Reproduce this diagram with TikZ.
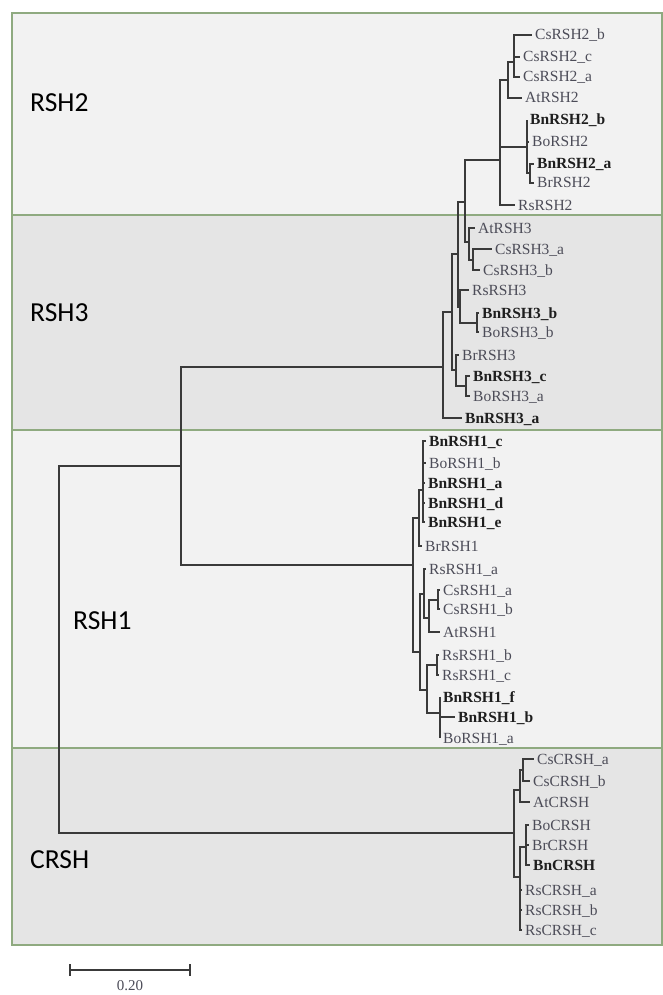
\documentclass[tikz,border=0pt]{standalone}
\usepackage{fontspec}
\setmainfont{Liberation Serif}
\newfontfamily\cladefont{Carlito}
\definecolor{bandlight}{HTML}{F2F2F2}
\definecolor{banddark}{HTML}{E5E5E5}
\definecolor{bordergreen}{HTML}{8FAA80}
\definecolor{treeline}{HTML}{3A3A3A}
\definecolor{leafgray}{HTML}{4C4C58}
\definecolor{leafbold}{HTML}{1E1E1E}
\newcommand\brn[2]{\draw[br] (#1) |- (#2);}
\begin{document}
\begin{tikzpicture}[x=1pt,y=-1pt,
 br/.style={draw=treeline,line width=1.1pt},
 leaf/.style={anchor=west,inner xsep=3pt,inner ysep=0pt,text height=10pt,text depth=0pt,font=\fontsize{15.5}{15.5}\selectfont,text=leafgray},
 bleaf/.style={leaf,font=\fontsize{15.5}{15.5}\selectfont\bfseries,text=leafbold},
 clade/.style={anchor=west,inner sep=0pt,font=\cladefont\fontsize{27.5}{27.5}\selectfont,text=black},
 bandline/.style={draw=bordergreen,line width=1.2pt}]
\useasboundingbox (0,0) rectangle (663,995);
\fill[white] (0,0) rectangle (663,995);
% bands
\fill[bandlight] (12,13) rectangle (662,215);
\fill[banddark] (12,215) rectangle (662,430);
\fill[bandlight] (12,430) rectangle (662,748);
\fill[banddark] (12,748) rectangle (662,945);
\draw[bandline] (12,13) rectangle (662,945);
\draw[bandline] (12,215) -- (662,215);
\draw[bandline] (12,430) -- (662,430);
\draw[bandline] (12,748) -- (662,748);
% clade labels
\node[clade] (lrsh2) at (30,103) {RSH2};
\node[clade] (lrsh3) at (30,313) {RSH3};
\node[clade] (lrsh1) at (73,621) {RSH1};
\node[clade] (lcrsh) at (30,860) {CRSH};
% internal nodes
\coordinate (root) at (59,650);
\coordinate (n181) at (181,466);
\coordinate (n443) at (443,367);
\coordinate (n452) at (452,312);
\coordinate (n458) at (458,254);
\coordinate (n465) at (465,202);
\coordinate (n500) at (500,160);
\coordinate (n508) at (508,80);
\coordinate (n514) at (514,62);
\coordinate (n527) at (527,147);
\coordinate (n530) at (530,173);
\coordinate (n469) at (469,242);
\coordinate (n473) at (473,260);
\coordinate (n460) at (460,307);
\coordinate (n477) at (477,323);
\coordinate (n456) at (456,370);
\coordinate (n466) at (466,386);
\coordinate (n413) at (413,565);
\coordinate (n419) at (419,518);
\coordinate (n423) at (423,490);
\coordinate (n420) at (420,652);
\coordinate (n424) at (424,594);
\coordinate (n429) at (429,618);
\coordinate (n438) at (438,600);
\coordinate (n427) at (427,690);
\coordinate (n437) at (437,665);
\coordinate (n440) at (440,713);
\coordinate (c514) at (514,833);
\coordinate (c520a) at (520,790);
\coordinate (c523) at (523,770);
\coordinate (c520b) at (520,877);
\coordinate (c526) at (526,847);
% leaves RSH2
\node[leaf] (cs2b) at (532,35) {CsRSH2\_b};
\node[leaf] (cs2c) at (520,57) {CsRSH2\_c};
\node[leaf] (cs2a) at (520,77) {CsRSH2\_a};
\node[leaf] (at2) at (522,98) {AtRSH2};
\node[bleaf] (bn2b) at (527,120) {BnRSH2\_b};
\node[leaf] (bo2) at (529,142) {BoRSH2};
\node[bleaf] (bn2a) at (534,164) {BnRSH2\_a};
\node[leaf] (br2) at (534,183) {BrRSH2};
\node[leaf] (rs2) at (515,205) {RsRSH2};
% leaves RSH3
\node[leaf] (at3) at (475,228) {AtRSH3};
\node[leaf] (cs3a) at (492,249) {CsRSH3\_a};
\node[leaf] (cs3b) at (480,270) {CsRSH3\_b};
\node[leaf] (rs3) at (469,290) {RsRSH3};
\node[bleaf] (bn3b) at (479,313) {BnRSH3\_b};
\node[leaf] (bo3b) at (479,332) {BoRSH3\_b};
\node[leaf] (br3) at (459,355) {BrRSH3};
\node[bleaf] (bn3c) at (470,376) {BnRSH3\_c};
\node[leaf] (bo3a) at (470,396) {BoRSH3\_a};
\node[bleaf] (bn3a) at (462,418) {BnRSH3\_a};
% leaves RSH1
\node[bleaf] (bn1c) at (426,441) {BnRSH1\_c};
\node[leaf] (bo1b) at (426,463) {BoRSH1\_b};
\node[bleaf] (bn1a) at (425,483) {BnRSH1\_a};
\node[bleaf] (bn1d) at (425,503) {BnRSH1\_d};
\node[bleaf] (bn1e) at (425,522) {BnRSH1\_e};
\node[leaf] (br1) at (422,546) {BrRSH1};
\node[leaf] (rs1a) at (426,569) {RsRSH1\_a};
\node[leaf] (cs1a) at (440,590) {CsRSH1\_a};
\node[leaf] (cs1b) at (440,609) {CsRSH1\_b};
\node[leaf] (at1) at (440,632) {AtRSH1};
\node[leaf] (rs1b) at (439,655) {RsRSH1\_b};
\node[leaf] (rs1c) at (439,675) {RsRSH1\_c};
\node[bleaf] (bn1f) at (440,697) {BnRSH1\_f};
\node[bleaf] (bn1b) at (455,717) {BnRSH1\_b};
\node[leaf] (bo1a) at (440,738) {BoRSH1\_a};
% leaves CRSH
\node[leaf] (cscra) at (534,759) {CsCRSH\_a};
\node[leaf] (cscrb) at (530,781) {CsCRSH\_b};
\node[leaf] (atcr) at (530,802) {AtCRSH};
\node[leaf] (bocr) at (529,825) {BoCRSH};
\node[leaf] (brcr) at (529,845) {BrCRSH};
\node[bleaf] (bncr) at (530,865) {BnCRSH};
\node[leaf] (rscra) at (522,890) {RsCRSH\_a};
\node[leaf] (rscrb) at (522,910) {RsCRSH\_b};
\node[leaf] (rscrc) at (522,930) {RsCRSH\_c};
% branches
\brn{root}{n181}
\brn{root}{c514}
\brn{n181}{n443}
\brn{n181}{n413}
\brn{n443}{n452}
\brn{n443}{bn3a.west}
\brn{n452}{n458}
\brn{n452}{n456}
\brn{n458}{n465}
\brn{n458}{n460}
\brn{n465}{n500}
\brn{n465}{n469}
\brn{n500}{n508}
\brn{n500}{n527}
\brn{n500}{rs2.west}
\brn{n508}{n514}
\brn{n508}{at2.west}
\brn{n514}{cs2b.west}
\brn{n514}{cs2c.west}
\brn{n514}{cs2a.west}
\brn{n527}{bn2b.west}
\brn{n527}{bo2.west}
\brn{n527}{n530}
\brn{n530}{bn2a.west}
\brn{n530}{br2.west}
\brn{n469}{at3.west}
\brn{n469}{n473}
\brn{n473}{cs3a.west}
\brn{n473}{cs3b.west}
\brn{n460}{rs3.west}
\brn{n460}{n477}
\brn{n477}{bn3b.west}
\brn{n477}{bo3b.west}
\brn{n456}{br3.west}
\brn{n456}{n466}
\brn{n466}{bn3c.west}
\brn{n466}{bo3a.west}
\brn{n413}{n419}
\brn{n413}{n420}
\brn{n419}{n423}
\brn{n419}{br1.west}
\brn{n423}{bn1c.west}
\brn{n423}{bo1b.west}
\brn{n423}{bn1a.west}
\brn{n423}{bn1d.west}
\brn{n423}{bn1e.west}
\brn{n420}{n424}
\brn{n420}{n427}
\brn{n424}{rs1a.west}
\brn{n424}{n429}
\brn{n429}{n438}
\brn{n429}{at1.west}
\brn{n438}{cs1a.west}
\brn{n438}{cs1b.west}
\brn{n427}{n437}
\brn{n427}{n440}
\brn{n437}{rs1b.west}
\brn{n437}{rs1c.west}
\brn{n440}{bn1f.west}
\brn{n440}{bn1b.west}
\brn{n440}{bo1a.west}
\brn{c514}{c520a}
\brn{c514}{c520b}
\brn{c520a}{c523}
\brn{c520a}{atcr.west}
\brn{c523}{cscra.west}
\brn{c523}{cscrb.west}
\brn{c520b}{c526}
\brn{c520b}{rscra.west}
\brn{c520b}{rscrb.west}
\brn{c520b}{rscrc.west}
\brn{c526}{bocr.west}
\brn{c526}{brcr.west}
\brn{c526}{bncr.west}
% scale bar
\coordinate (sbL) at (70,970);
\coordinate (sbR) at (190,970);
\draw[br] (sbL) -- (sbR);
\draw[br] ([yshift=6pt]sbL) -- ([yshift=-6pt]sbL);
\draw[br] ([yshift=6pt]sbR) -- ([yshift=-6pt]sbR);
\node[font=\fontsize{15}{15}\selectfont,text=leafgray,inner sep=0pt] (sblabel) at (130,986) {0.20};
\end{tikzpicture}
\end{document}
